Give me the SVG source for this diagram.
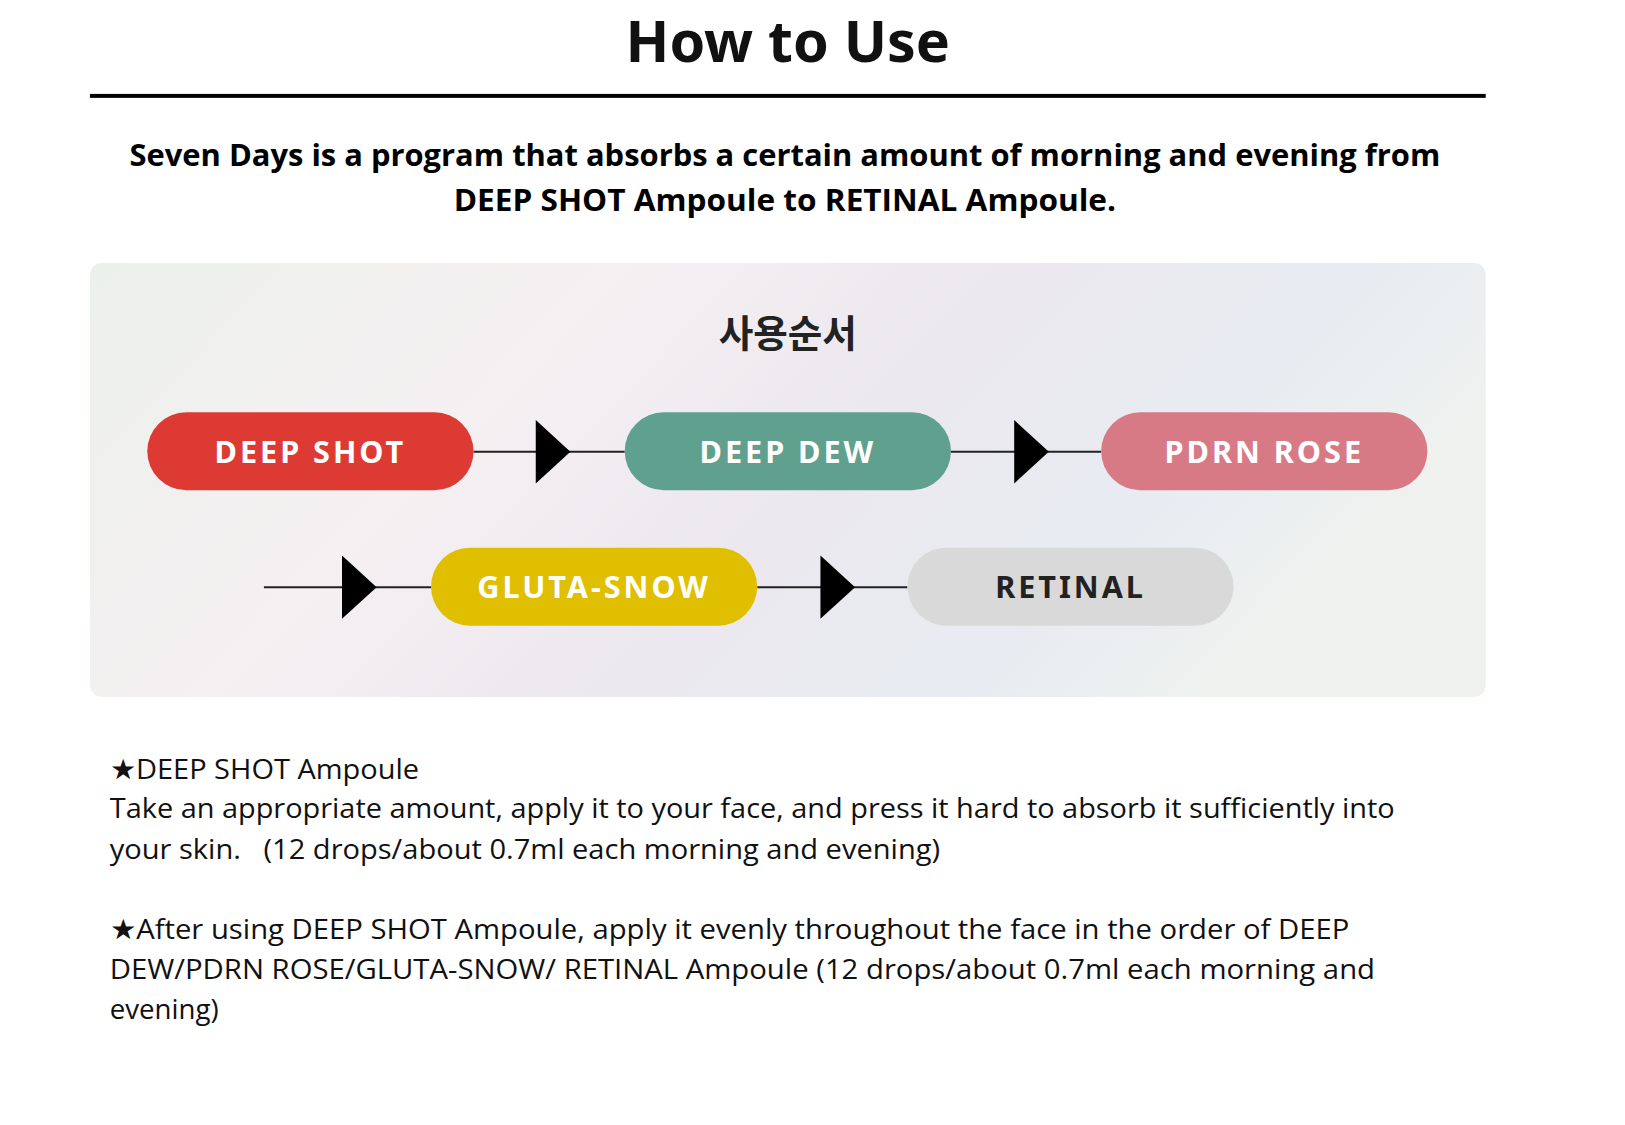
<svg xmlns="http://www.w3.org/2000/svg" width="1625" height="1125" viewBox="0 0 1625 1125">
<style>
.pill{font-family:"Noto Sans","DejaVu Sans",sans-serif;font-weight:700;font-size:31px;letter-spacing:3px;text-anchor:middle;fill:#fff}
.body{font-family:"Open Sans","Noto Sans",sans-serif;font-size:28px;fill:#111}
.sub{font-family:"Open Sans","Noto Sans",sans-serif;font-weight:700;font-size:31px;fill:#000;text-anchor:middle}
.conn line{stroke:#222;stroke-width:2}
</style>
<defs>
<linearGradient id="bg" x1="0" y1="0" x2="1" y2="0.3">
<stop offset="0" stop-color="#ECF0EC"/>
<stop offset="0.35" stop-color="#F5F0F2"/>
<stop offset="0.6" stop-color="#EBE8EE"/>
<stop offset="0.85" stop-color="#E8ECF2"/>
<stop offset="1" stop-color="#EEF1EE"/>
</linearGradient>
<polygon id="tri" points="0,-32 35,0 0,32" fill="#000"/>
</defs>
<rect width="1625" height="1125" fill="#fff"/>
<g transform="scale(0.9885)">
<text x="797" y="63" font-family="Noto Sans, sans-serif" font-weight="700" font-size="58" text-anchor="middle" fill="#111">How to Use</text>
<rect x="91" y="95" width="1412" height="4" fill="#000"/>
<text class="sub" x="794" y="168" textLength="1326" lengthAdjust="spacingAndGlyphs">Seven Days is a program that absorbs a certain amount of morning and evening from</text>
<text class="sub" x="794" y="213" textLength="670" lengthAdjust="spacingAndGlyphs">DEEP SHOT Ampoule to RETINAL Ampoule.</text>
<rect x="91" y="266" width="1412" height="439" rx="12" fill="url(#bg)"/>
<text x="797" y="351" font-family="Noto Sans CJK KR, sans-serif" font-weight="700" font-size="38" text-anchor="middle" fill="#222">사용순서</text>
<g class="conn">
<line x1="479" y1="457" x2="632" y2="457"/><use href="#tri" x="542" y="457"/>
<line x1="962" y1="457" x2="1114" y2="457"/><use href="#tri" x="1026" y="457"/>
<line x1="267" y1="594" x2="436" y2="594"/><use href="#tri" x="346" y="594"/>
<line x1="766" y1="594" x2="918" y2="594"/><use href="#tri" x="830" y="594"/>
</g>
<g id="deepshot"><rect x="149" y="417" width="330" height="79" rx="39.5" fill="#DD3A33"/><text class="pill" x="314" y="468">DEEP SHOT</text></g>
<g id="deepdew"><rect x="632" y="417" width="330" height="79" rx="39.5" fill="#5FA08E"/><text class="pill" x="797" y="468">DEEP DEW</text></g>
<g id="pdrnrose"><rect x="1114" y="417" width="330" height="79" rx="39.5" fill="#D87986"/><text class="pill" x="1279" y="468">PDRN ROSE</text></g>
<g id="glutasnow"><rect x="436" y="554" width="330" height="79" rx="39.5" fill="#E0BE00"/><text class="pill" x="601" y="605">GLUTA-SNOW</text></g>
<g id="retinal"><rect x="918" y="554" width="330" height="79" rx="39.5" fill="#D9D9D9"/><text class="pill" x="1083" y="605" style="fill:#222">RETINAL</text></g>
<text class="body" x="111" y="788" textLength="313" lengthAdjust="spacingAndGlyphs">★DEEP SHOT Ampoule</text>
<text class="body" x="111" y="828" textLength="1300" lengthAdjust="spacingAndGlyphs">Take an appropriate amount, apply it to your face, and press it hard to absorb it sufficiently into</text>
<text class="body" x="111" y="869" textLength="840" lengthAdjust="spacingAndGlyphs">your skin.&#160;&#160; (12 drops/about 0.7ml each morning and evening)</text>
<text class="body" x="111" y="950" textLength="1254" lengthAdjust="spacingAndGlyphs">★After using DEEP SHOT Ampoule, apply it evenly throughout the face in the order of DEEP</text>
<text class="body" x="111" y="990" textLength="1280" lengthAdjust="spacingAndGlyphs">DEW/PDRN ROSE/GLUTA-SNOW/ RETINAL Ampoule (12 drops/about 0.7ml each morning and</text>
<text class="body" x="111" y="1031">evening)</text>
</g>
</svg>
